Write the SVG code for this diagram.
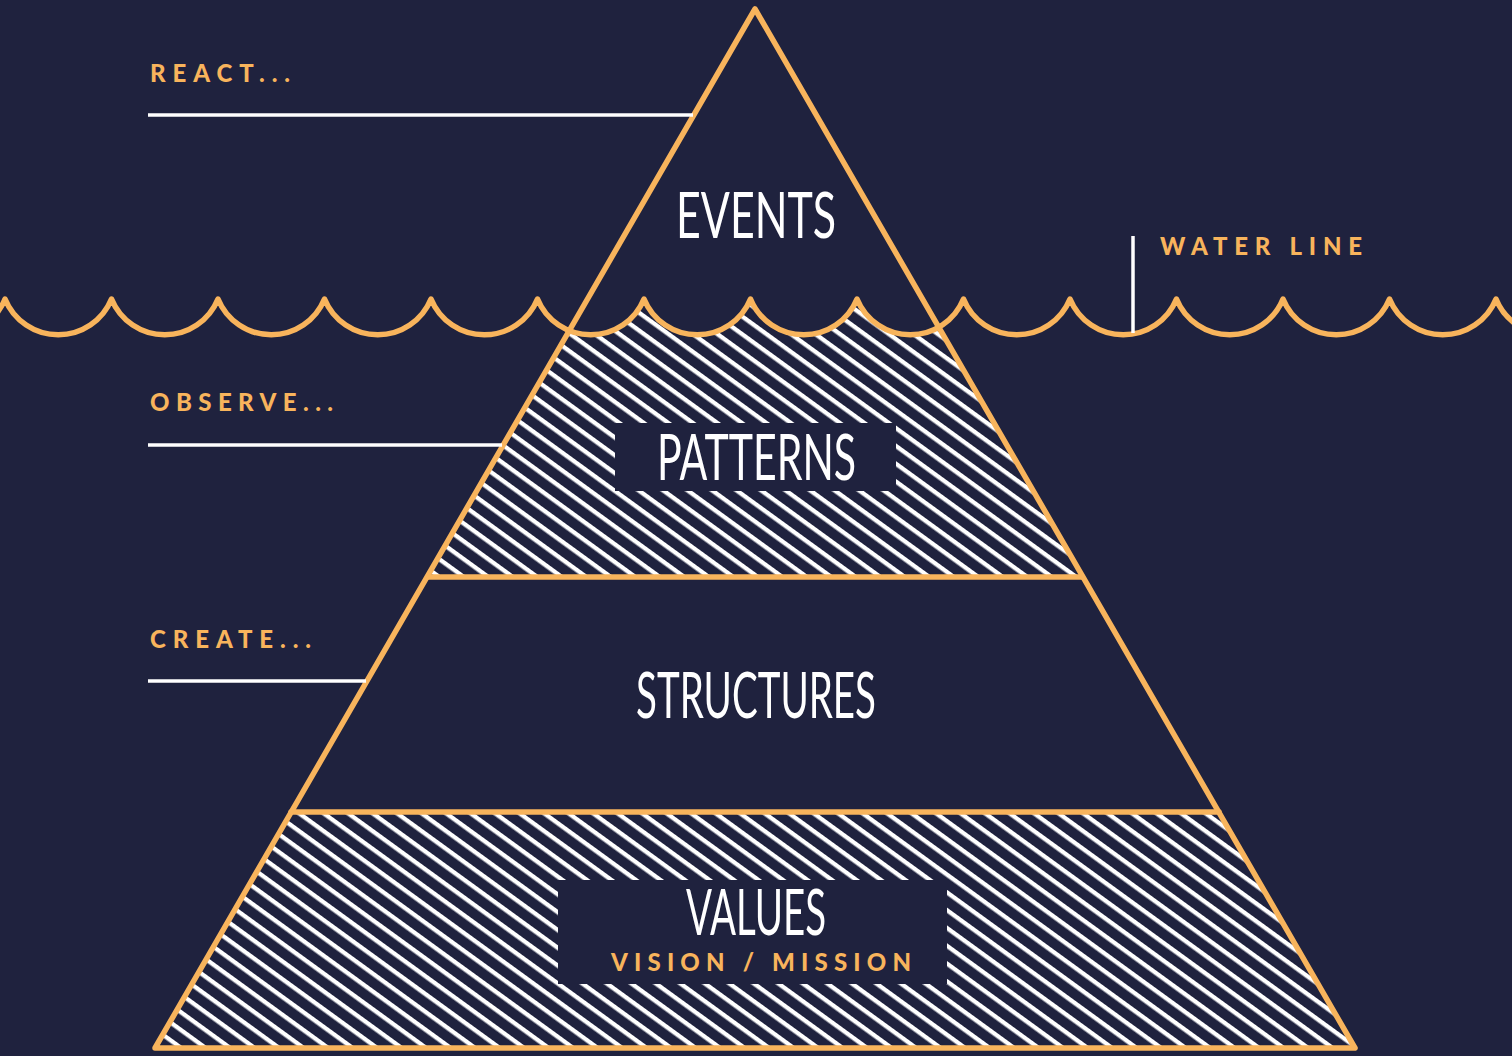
<svg xmlns="http://www.w3.org/2000/svg" width="1512" height="1056" viewBox="0 0 1512 1056">
  <style>
    .lbl { font-family: Lato, "Liberation Sans", sans-serif; font-weight: 900; fill: #f8b45c; font-size: 24px; }
    .title { font-family: Lato, "DejaVu Sans", sans-serif; font-weight: 400; fill: #ffffff; font-size: 64px; }
    .orange { fill: none; stroke: #f8b45c; stroke-width: 5.5; stroke-linejoin: round; stroke-linecap: round; }
    .lead { fill: none; stroke: #ffffff; stroke-width: 3.5; }
    .box { fill: #1f223e; }
  </style>
  <defs>
    <pattern id="hatch" patternUnits="userSpaceOnUse" width="40" height="14.4" patternTransform="rotate(36)">
      <rect width="40" height="14.4" fill="#1f223e"/>
      <line x1="-5" y1="7" x2="45" y2="7" stroke="#ffffff" stroke-width="4.2"/>
    </pattern>
    <clipPath id="tri">
      <path d="M 155 1048 L 755 9 L 1355 1048 Z"/>
    </clipPath>
    <clipPath id="belowWave">
      <path d="M -101.5 299 A 57.5 57.5 0 0 0 5 299 A 57.5 57.5 0 0 0 111.5 299 A 57.5 57.5 0 0 0 218 299 A 57.5 57.5 0 0 0 324.5 299 A 57.5 57.5 0 0 0 431 299 A 57.5 57.5 0 0 0 537.5 299 A 57.5 57.5 0 0 0 644 299 A 57.5 57.5 0 0 0 750.5 299 A 57.5 57.5 0 0 0 857 299 A 57.5 57.5 0 0 0 963.5 299 A 57.5 57.5 0 0 0 1070 299 A 57.5 57.5 0 0 0 1176.5 299 A 57.5 57.5 0 0 0 1283 299 A 57.5 57.5 0 0 0 1389.5 299 A 57.5 57.5 0 0 0 1496 299 A 57.5 57.5 0 0 0 1602.5 299 L 1602.5 577 L -101.5 577 Z"/>
    </clipPath>
  </defs>

  <rect width="1512" height="1056" fill="#1f223e"/>

  <!-- hatched bands -->
  <g clip-path="url(#tri)">
    <g clip-path="url(#belowWave)">
      <rect x="0" y="280" width="1512" height="297" fill="url(#hatch)"/>
    </g>
    <rect x="0" y="812" width="1512" height="240" fill="url(#hatch)"/>
  </g>

  <!-- pyramid outline and band lines -->
  <g id="pyramid">
    <path class="orange" d="M 155 1048 L 755 9 L 1355 1048 Z" stroke-width="6"/>
    <line class="orange" x1="428" y1="577" x2="1082" y2="577"/>
    <line class="orange" x1="291" y1="812" x2="1219" y2="812"/>
  </g>

  <!-- water line wave -->
  <g id="wave">
    <path class="orange" stroke-width="5" d="M -101.5 299 A 57.5 57.5 0 0 0 5 299 A 57.5 57.5 0 0 0 111.5 299 A 57.5 57.5 0 0 0 218 299 A 57.5 57.5 0 0 0 324.5 299 A 57.5 57.5 0 0 0 431 299 A 57.5 57.5 0 0 0 537.5 299 A 57.5 57.5 0 0 0 644 299 A 57.5 57.5 0 0 0 750.5 299 A 57.5 57.5 0 0 0 857 299 A 57.5 57.5 0 0 0 963.5 299 A 57.5 57.5 0 0 0 1070 299 A 57.5 57.5 0 0 0 1176.5 299 A 57.5 57.5 0 0 0 1283 299 A 57.5 57.5 0 0 0 1389.5 299 A 57.5 57.5 0 0 0 1496 299 A 57.5 57.5 0 0 0 1602.5 299"/>
  </g>

  <!-- leader lines -->
  <g id="connectors">
    <line class="lead" x1="148" y1="115" x2="693" y2="115"/>
    <line class="lead" x1="148" y1="445" x2="502" y2="445"/>
    <line class="lead" x1="148" y1="681" x2="366" y2="681"/>
    <line class="lead" x1="1133" y1="236" x2="1133" y2="333" stroke-width="4"/>
  </g>

  <g id="events">
    <text class="title" x="676" y="238" textLength="160" lengthAdjust="spacingAndGlyphs">EVENTS</text>
  </g>

  <g id="patterns">
    <rect class="box" x="615" y="423" width="281" height="68"/>
    <text class="title" x="657" y="480" textLength="199" lengthAdjust="spacingAndGlyphs">PATTERNS</text>
  </g>

  <g id="structures">
    <text class="title" x="636" y="718" textLength="240" lengthAdjust="spacingAndGlyphs">STRUCTURES</text>
  </g>

  <g id="values">
    <rect class="box" x="558" y="880" width="389" height="104"/>
    <text class="title" x="686" y="935" textLength="140" lengthAdjust="spacingAndGlyphs">VALUES</text>
    <text class="lbl" x="611" y="971" font-size="23" textLength="300" lengthAdjust="spacing">VISION / MISSION</text>
  </g>

  <g id="label-react">
    <text class="lbl" x="150" y="82" textLength="140" lengthAdjust="spacing">REACT...</text>
  </g>
  <g id="label-observe">
    <text class="lbl" x="150" y="411" textLength="183" lengthAdjust="spacing">OBSERVE...</text>
  </g>
  <g id="label-create">
    <text class="lbl" x="150" y="648" textLength="161" lengthAdjust="spacing">CREATE...</text>
  </g>
  <g id="label-water">
    <text class="lbl" x="1160" y="255" textLength="202" lengthAdjust="spacing">WATER LINE</text>
  </g>
</svg>
